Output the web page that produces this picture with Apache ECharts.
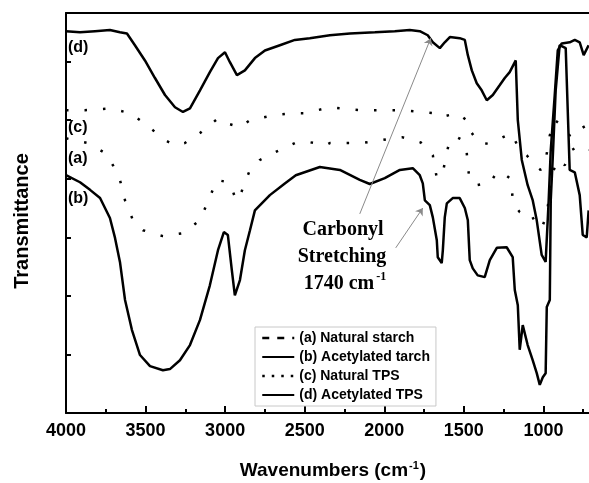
<!DOCTYPE html>
<html>
<head>
<meta charset="utf-8">
<style>html,body{margin:0;padding:0;background:#fff;overflow:hidden;}#c{width:589px;height:483px;}</style>
<script src="https://cdn.jsdelivr.net/npm/echarts@6/dist/echarts.min.js"></script>
</head>
<body>
<div id="c"></div>
<script>
// (a) Natural starch
const wnA = [4000,3862,3755,3705,3661,3648,3629,3579,3516,3391,3265,3158,3096,3052,2983,2958,2932,2907,2876,2844,2782,2687,2562,2499,2367,2342,2141,2016,1890,1771,1695,1670,1632,1620,1607,1588,1544,1507,1482,1475,1463,1419,1381,1337,1293,1256,1212,1199,1193,1168,1149,1130,1086,1042,1011,979,948,910,866,822,772,716];
const tA  = [46.9,46.1,44.4,42.3,39.8,38.4,36.3,32.9,31.2,30.2,30.7,32.9,36.9,39.8,39.4,38.4,36.3,37.0,39.4,41.5,43.2,44.5,46.1,46.4,45.7,46.1,46.1,46.6,47.1,46.2,44.0,40.1,41.1,42.7,44.5,46.6,47.1,46.6,44.5,42.0,39.8,38.9,39.1,39.2,41.1,41.0,40.1,38.6,36.3,35.0,34.3,34.1,34.3,32.1,31.6,33.8,40.6,43.2,42.3,44.9,45.7,44.9];
// (b) Acetylated starch
const wnB = [4000,3912,3849,3786,3724,3692,3661,3629,3586,3535,3472,3391,3347,3284,3221,3158,3096,3045,3008,2983,2958,2939,2907,2876,2844,2813,2719,2625,2556,2405,2279,2154,2091,1997,1902,1821,1777,1758,1745,1714,1695,1670,1664,1639,1632,1620,1607,1570,1526,1494,1475,1463,1444,1413,1369,1337,1293,1231,1193,1180,1161,1149,1130,1099,1067,1042,1023,1004,986,979,960,954,942,923,898,860,835,803,772,753,728,716];
const tB  = [40.6,39.4,38.1,36.7,33.3,29.9,25.8,19.3,14.2,9.9,8.0,7.3,7.5,9.0,11.6,15.9,21.8,27.8,30.9,30.4,24.4,20.1,22.7,27.8,31.2,34.6,37.2,39.2,40.6,42.0,41.5,39.8,39.1,40.1,41.5,41.8,40.6,39.2,36.3,35.5,33.4,29.5,26.6,25.6,27.8,33.4,35.8,36.7,36.7,35.0,32.9,26.1,24.7,23.5,23.2,26.1,28.2,28.3,26.6,21.0,18.4,10.8,15.0,11.6,9.0,6.8,4.8,6.1,6.8,18.1,19.3,36.3,43.2,55.1,62.8,62.3,41.5,41.1,37.2,30.4,30.0,34.6];
// (c) Natural TPS
const wnC = [4000,3881,3724,3598,3535,3441,3378,3315,3253,3158,3045,2970,2907,2844,2687,2562,2499,2373,2342,2154,2016,1890,1695,1651,1588,1544,1526,1482,1475,1450,1419,1381,1337,1293,1231,1212,1180,1149,1105,1055,1017,986,960,929,885,835,791,753,716];
const tC  = [51.7,51.7,52.0,51.2,50.0,48.0,46.6,45.7,46.1,47.8,50.3,49.3,48.8,50.0,50.9,51.2,51.2,52.0,52.2,51.7,51.7,51.7,51.2,50.5,50.9,51.2,50.9,50.0,48.6,47.8,46.6,45.9,46.1,46.6,47.4,47.8,46.6,44.9,44.0,42.3,41.5,43.2,47.4,50.0,49.1,47.4,48.3,49.1,47.4];
// (d) Acetylated TPS
const wnD = [4000,3912,3818,3724,3661,3617,3567,3504,3441,3378,3315,3265,3221,3158,3096,3045,3001,2970,2926,2876,2813,2750,2656,2562,2468,2342,2216,2059,1934,1840,1777,1727,1695,1651,1620,1588,1526,1494,1475,1450,1419,1388,1356,1318,1274,1243,1212,1174,1161,1136,1099,1067,1042,1011,986,967,954,929,910,885,835,803,772,747,716];
const tD  = [65.2,65.0,65.2,65.4,65.0,64.8,62.8,60.2,57.2,54.3,52.2,51.4,52.0,55.1,58.2,60.6,61.6,59.9,57.7,58.5,60.6,61.9,62.8,63.7,64.0,64.5,64.8,65.0,65.2,65.4,65.2,64.5,63.3,62.3,63.3,64.2,64.0,63.7,61.1,58.5,56.3,55.1,53.4,54.3,56.0,57.2,58.2,60.2,50.0,43.2,38.9,36.3,32.9,27.0,25.8,36.3,44.9,54.3,61.9,63.1,63.3,63.7,63.3,61.1,62.8];

const seriesNames = ['(a) Natural starch','(b) Acetylated tarch','(c) Natural TPS','(d) Acetylated TPS'];
const curveTags = ['(d)','(c)','(a)','(b)'];
const xTicks = [4000,3500,3000,2500,2000,1500,1000];
// arrows: [fromWn, fromT, toWn, toT]
const arrow1 = [2154,34.0,1708,64.0];
const arrow2 = [1928,28.2,1758,35.0];

const zip = (xs, ys) => xs.map((x,i)=>[x, ys[i]]);
const chart = echarts.init(document.getElementById('c'), null, {renderer:'canvas'});
const sans = 'Arial, "Liberation Sans", sans-serif';
const serif = '"Times New Roman", "Liberation Serif", serif';

const solid = {color:'#000', width:2.5, type:'solid'};
const dots = {color:'#000', width:2.5, type:[2.5,16], cap:'butt'};

chart.setOption({
  animation:false,
  backgroundColor:'#fff',
  grid:{left:66, top:13, width:557, height:400, containLabel:false, outerBoundsMode:'none'},
  xAxis:[{
    type:'value', inverse:true, min:500, max:4000, interval:500,
    axisLine:{show:true, onZero:false, lineStyle:{color:'#000', width:2}},
    axisTick:{show:true, inside:true, length:7, lineStyle:{color:'#000', width:2}},
    minorTick:{show:true, splitNumber:2, length:4, lineStyle:{color:'#000', width:2}},
    splitLine:{show:false},
    axisLabel:{show:true, margin:9, color:'#000', fontFamily:sans, fontWeight:'bold', fontSize:18,
      formatter:v=> xTicks.indexOf(v)>=0 ? String(v) : ''}
  },{
    type:'value', inverse:true, min:500, max:4000, position:'top',
    axisLine:{show:true, onZero:false, lineStyle:{color:'#000', width:2}},
    axisTick:{show:false}, axisLabel:{show:false}, splitLine:{show:false}
  }],
  yAxis:{
    type:'value', min:0, max:68.3, interval:10,
    axisLine:{show:true, onZero:false, lineStyle:{color:'#000', width:2}},
    axisTick:{show:true, inside:true, length:5, lineStyle:{color:'#000', width:2}},
    axisLabel:{show:false}, splitLine:{show:false}
  },
  legend:{
    orient:'vertical', left:255, top:327, padding:[4,6,4,6], itemGap:5,
    itemWidth:32, itemHeight:14, borderColor:'#c8c8c8', borderWidth:1, backgroundColor:'#fff',
    itemStyle:{opacity:0, borderWidth:0},
    textStyle:{color:'#000', fontFamily:sans, fontWeight:'bold', fontSize:14},
    data:[
      {name:seriesNames[0], lineStyle:{type:[7,8], width:2.5}},
      {name:seriesNames[1]},
      {name:seriesNames[2], lineStyle:{type:[2.5,7], width:2.5}},
      {name:seriesNames[3]}
    ]
  },
  series:[
    {name:seriesNames[0], type:'line', symbol:'none', data:zip(wnA,tA), lineStyle:dots, itemStyle:{color:'#000'}},
    {name:seriesNames[1], type:'line', symbol:'none', data:zip(wnB,tB), lineStyle:solid, itemStyle:{color:'#000'}},
    {name:seriesNames[2], type:'line', symbol:'none', data:zip(wnC,tC), lineStyle:dots, itemStyle:{color:'#000'}},
    {name:seriesNames[3], type:'line', symbol:'none', data:zip(wnD,tD), lineStyle:solid, itemStyle:{color:'#000'},
      markLine:{silent:true, symbol:['none','arrow'], symbolSize:7, animation:false,
        lineStyle:{color:'#8a8a8a', width:1, type:'solid'}, label:{show:false},
        data:[
          [{coord:[arrow1[0],arrow1[1]]},{coord:[arrow1[2],arrow1[3]]}],
          [{coord:[arrow2[0],arrow2[1]]},{coord:[arrow2[2],arrow2[3]]}]
        ]}}
  ],
  graphic:[
    {type:'text', x:22, y:221, rotation:Math.PI/2,
      style:{text:'Transmittance', font:'bold 20px '+sans, fill:'#000', align:'center', verticalAlign:'middle'}},
    {type:'text', x:333, y:471,
      style:{text:'{m|Wavenumbers (cm}{s|-1}{m|)}', align:'center', verticalAlign:'middle',
        rich:{m:{font:'bold 19px '+sans, color:'#000'}, s:{font:'bold 11px '+sans, color:'#000', verticalAlign:'top', padding:[0,1,10,1]}}}},
    {type:'text', x:68, y:48, style:{text:curveTags[0], font:'bold 16px '+sans, fill:'#000', verticalAlign:'middle'}},
    {type:'text', x:68, y:128, style:{text:curveTags[1], font:'bold 16px '+sans, fill:'#000', verticalAlign:'middle'}},
    {type:'text', x:68, y:159, style:{text:curveTags[2], font:'bold 16px '+sans, fill:'#000', verticalAlign:'middle'}},
    {type:'text', x:68, y:199, style:{text:curveTags[3], font:'bold 16px '+sans, fill:'#000', verticalAlign:'middle'}},
    {type:'text', x:343, y:230, style:{text:'Carbonyl', font:'bold 20px '+serif, fill:'#000', align:'center', verticalAlign:'middle'}},
    {type:'text', x:342, y:257, style:{text:'Stretching', font:'bold 20px '+serif, fill:'#000', align:'center', verticalAlign:'middle'}},
    {type:'text', x:345, y:284,
      style:{text:'{m|1740 cm}{s|-1}', align:'center', verticalAlign:'middle',
        rich:{m:{font:'bold 20px '+serif, color:'#000'}, s:{font:'bold 12px '+serif, color:'#000', padding:[0,0,14,2]}}}}
  ]
});
</script>
</body>
</html>
